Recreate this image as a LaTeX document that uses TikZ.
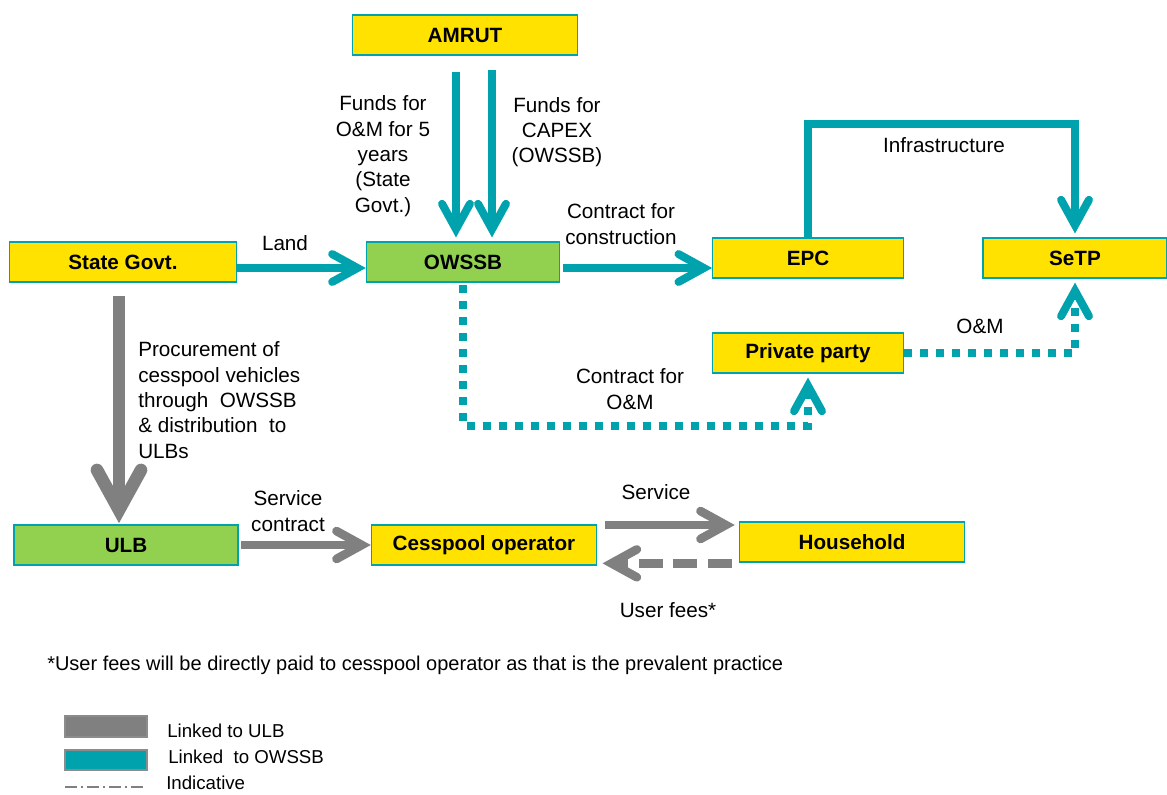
\documentclass[tikz,border=0pt]{standalone}
\usepackage{fontspec}
\setmainfont{Liberation Sans}
\usetikzlibrary{arrows.meta,positioning}
\definecolor{boxyellow}{HTML}{FFE200}
\definecolor{boxgreen}{HTML}{92D050}
\definecolor{owteal}{HTML}{00A3AD}
\definecolor{ulbgray}{HTML}{808080}
\newcommand{\txtsize}{\fontsize{15.5}{19}\selectfont}

\tikzset{
  box/.style={draw=owteal, line width=0.8pt, minimum height=30pt, inner sep=0pt,
    font=\bfseries\txtsize},
  ybox/.style={box, fill=boxyellow},
  gbox/.style={box, fill=boxgreen},
  lbl/.style={font=\txtsize, align=center, inner sep=0pt},
  barb/.style={-{Straight Barb[length=#1,width=1.1*#1,line cap=round,line join=miter]}},
  owarrow/.style={draw=owteal, line width=6pt, barb=19pt},
  owdot/.style={owarrow, dash pattern=on 6pt off 6pt},
  ulbarrow/.style={draw=ulbgray, line width=6.5pt, barb=19pt},
  ulbdash/.style={ulbarrow, dash pattern=on 18pt off 8pt},
  ulbbig/.style={draw=ulbgray, line width=9.5pt, barb=30pt}
}

\begin{document}
\begin{tikzpicture}[x=0.75pt,y=-0.75pt]
  \useasboundingbox (0,0) rectangle (1167,794);

  %boxes
  \node[ybox,minimum width=169pt] (amrut) at (465,35) {AMRUT};
  \node[ybox,minimum width=170pt] (sg) at (123,262) {State Govt.};
  \node[gbox,minimum width=145pt] (owssb) at (463,262) {OWSSB};
  \node[ybox,minimum width=143pt] (epc) at (808,258) {EPC};
  \node[ybox,minimum width=138pt] (setp) at (1075,258) {SeTP};
  \node[ybox,minimum width=143pt] (pp) at (808,353) {Private party};
  \node[gbox,minimum width=168pt] (ulb) at (126,545) {ULB};
  \node[ybox,minimum width=169pt] (cess) at (484,545) {Cesspool operator};
  \node[ybox,minimum width=169pt] (hh) at (852,542) {Household};

  %funds from AMRUT
  \coordinate (fa) at (456,72);
  \coordinate (fb) at (492,70);
  \draw[owarrow,shorten >=3pt] (fa) -- (fa |- owssb.north);
  \draw[owarrow,shorten >=3pt] (fb) -- (fb |- owssb.north);

  %OWSSB links
  \draw[owarrow] ([yshift=-4.5pt]sg.east) -- ([yshift=-4.5pt]owssb.west);
  \draw[owarrow,shorten <=2pt] ([yshift=-4.5pt]owssb.east) -- ([yshift=-4.5pt]owssb.east -| epc.west);
  \draw[owarrow,shorten >=3pt] (epc.north) -- ++(0,-113) -| (setp.north);
  \draw[owdot,shorten <=2pt,shorten >=3pt] (owssb.south) -- ++(0,143) -| (pp.south);
  \draw[owdot,shorten >=3pt] (pp.east) -| (setp.south);

  %ULB links
  \coordinate (gv) at (119,296);
  \draw[ulbbig,shorten >=1pt] (gv) -- (gv |- ulb.north);
  \draw[ulbarrow,shorten <=2pt] (ulb.east) -- (cess.west);
  \draw[ulbarrow,shorten <=6pt,shorten >=3pt] ([yshift=15pt]cess.east) -- ([yshift=15pt]cess.east -| hh.west);
  \draw[ulbdash,shorten <=5pt,shorten >=4pt] ([yshift=-16pt]hh.west) -- ([yshift=-16pt]hh.west -| cess.east);

  %labels
  \node[lbl] (lfunds) at (383,156) {Funds for\\O\&M for 5\\years\\(State\\Govt.)};
  \node[lbl] (lcapex) at (557,132) {Funds for\\CAPEX\\(OWSSB)};
  \node[lbl] (lland) at (285,243) {Land};
  \node[lbl] (lcons) at (621,224) {Contract for\\construction};
  \node[lbl] (linfra) at (944,145) {Infrastructure};
  \node[lbl] (lom) at (980,326) {O\&M};
  \node[lbl] (lcom) at (630,389) {Contract for\\O\&M};
  \node[lbl,align=left,anchor=west] (lproc) at (138,400)
    {Procurement of\\cesspool vehicles\\through\ \ OWSSB\\\&\ distribution\ \ to\\ULBs};
  \node[lbl] (lsc) at (288,511) {Service\\contract};
  \node[lbl] (lserv) at (656,492) {Service};
  \node[lbl] (lfees) at (668,610) {User fees*};

  %footnote
  \node[anchor=west,inner sep=0pt,font=\fontsize{15}{17}\selectfont] (note) at (47,665)
    {*User fees will be directly paid to cesspool operator as that is the prevalent practice};

  %legend
  \draw[fill=ulbgray,draw=black!45,line width=0.8pt] (65,716) rectangle (147,737);
  \draw[fill=owteal,draw=black!45,line width=0.8pt] (65,750) rectangle (147,770);
  \draw[ulbgray,line width=1.5pt,dash pattern=on 9pt off 3pt on 1.5pt off 3pt] (65,787) -- (143,787);
  \node[anchor=west,inner sep=0pt,font=\fontsize{14}{16}\selectfont] (kulb) at (167,731) {Linked to ULB};
  \node[anchor=west,inner sep=0pt,font=\fontsize{14}{16}\selectfont] (kow) at (168,757) {Linked\ \ to OWSSB};
  \node[anchor=west,inner sep=0pt,font=\fontsize{14}{16}\selectfont] (kind) at (166,783) {Indicative};
\end{tikzpicture}
\end{document}
